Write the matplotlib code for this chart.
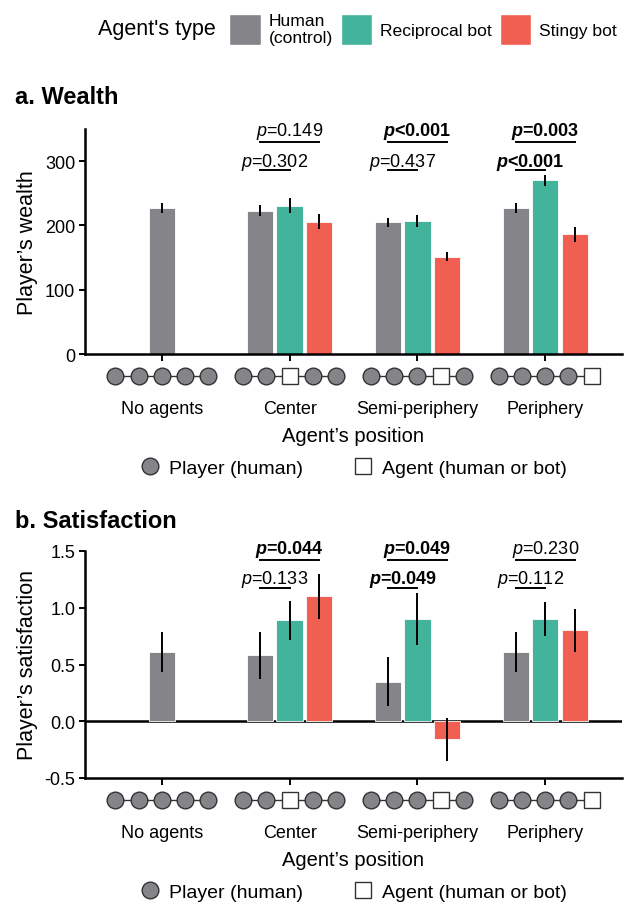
import numpy as np
import matplotlib.pyplot as plt
from matplotlib.patches import Patch
from matplotlib.lines import Line2D
from matplotlib.transforms import blended_transform_factory

plt.rcParams['font.family'] = ['Liberation Sans', 'DejaVu Sans']
plt.rcParams['mathtext.fontset'] = 'custom'
plt.rcParams['mathtext.rm'] = 'Liberation Sans'
plt.rcParams['mathtext.it'] = 'Liberation Sans:italic'
plt.rcParams['mathtext.bf'] = 'Liberation Sans:bold'
plt.rcParams['mathtext.bfit'] = 'Liberation Sans:bold:italic'

# data
categories = ["No agents", "Center", "Semi-periphery", "Periphery"]
agent_types = ["Human\n(control)", "Reciprocal bot", "Stingy bot"]
agent_slot = [None, 2, 3, 4]  # which node in the chain is the agent

wealth_human = [227, 223, 205, 227]
wealth_human_err = [8, 9, 7, 8]
wealth_recip = [np.nan, 231, 207, 270]
wealth_recip_err = [np.nan, 12, 10, 8.5]
wealth_stingy = [np.nan, 206, 151, 186]
wealth_stingy_err = [np.nan, 12, 7, 12]

sat_human = [0.61, 0.58, 0.35, 0.61]
sat_human_err = [0.175, 0.21, 0.22, 0.175]
sat_recip = [np.nan, 0.89, 0.90, 0.90]
sat_recip_err = [np.nan, 0.17, 0.23, 0.15]
sat_stingy = [np.nan, 1.10, -0.16, 0.80]
sat_stingy_err = [np.nan, 0.20, 0.19, 0.19]

# p-values for Center, Semi-periphery, Periphery
# lower bracket: human vs reciprocal, upper bracket: human vs stingy
wealth_p_lower = ["=0.302", "=0.437", "<0.001"]
wealth_p_lower_style = ["italic", "normal", "bold"]
wealth_p_upper = ["=0.149", "<0.001", "=0.003"]
wealth_p_upper_style = ["normal", "bold", "bold"]
sat_p_lower = ["=0.133", "=0.049", "=0.112"]
sat_p_lower_style = ["normal", "bold", "normal"]
sat_p_upper = ["=0.044", "=0.049", "=0.230"]
sat_p_upper_style = ["bold", "bold", "normal"]

colors = ["#858489", "#44B39B", "#F05F51"]
W, H = 634, 904

fig = plt.figure(figsize=(W / 100, H / 100), dpi=100)


def p_label(txt, style):
    if style == "bold":
        return r"$\mathbfit{p}$" + txt, "bold"
    if style == "italic":
        return r"$\mathit{p}$" + txt[0] + r"$\mathit{" + txt[1:] + "}$", "normal"
    return r"$\mathit{p}$" + txt, "normal"


def panel(rect, hum, hum_e, rec, rec_e, sti, sti_e, ylim, yticks, fmt,
          p_low, p_low_s, p_up, p_up_s, br_y, tx_y, ylabel):
    ax = fig.add_axes(rect)
    x = np.arange(1, len(categories) + 1)
    step, bw = 0.23, 0.205
    ekw = dict(ecolor="black", elinewidth=1.4, capsize=0)
    # human bar sits in the middle when it is alone
    hx = np.where(np.isnan(rec), x, x - step)
    ax.bar(hx, hum, bw, yerr=hum_e, color=colors[0], edgecolor="white", lw=0.6, error_kw=ekw, zorder=2)
    ax.bar(x, rec, bw, yerr=rec_e, color=colors[1], edgecolor="white", lw=0.6, error_kw=ekw, zorder=2)
    ax.bar(x + step, sti, bw, yerr=sti_e, color=colors[2], edgecolor="white", lw=0.6, error_kw=ekw, zorder=2)

    ax.set_xlim(0.4, 4.6)
    ax.set_ylim(*ylim)
    ax.set_yticks(yticks)
    ax.set_yticklabels([fmt.format(v) for v in yticks])
    ax.set_xticks(x)
    ax.set_xticklabels(categories)
    ax.tick_params(axis="x", length=5, width=1.4, pad=28, labelsize=13)
    ax.tick_params(axis="y", length=4, width=1.4, pad=3, labelsize=13)
    for s in ["top", "right"]:
        ax.spines[s].set_visible(False)
    for s in ["left", "bottom"]:
        ax.spines[s].set_linewidth(1.8)

    ax.set_ylabel(ylabel, fontsize=15.5)
    ax.yaxis.set_label_coords(-0.088, 0.5)
    ax.set_xlabel("Agent\u2019s position", fontsize=14.5)
    ax.xaxis.set_label_coords(0.5, -0.36)
    ax.xaxis.label.set_va("center")

    # significance brackets
    for i in range(3):
        c = x[i + 1]
        ax.plot([c - step, c], [br_y[0]] * 2, color="black", lw=1.4, clip_on=False)
        ax.plot([c - step, c + step], [br_y[1]] * 2, color="black", lw=1.4, clip_on=False)
        s, w = p_label(p_low[i], p_low_s[i])
        ax.text(c - step / 2, tx_y[0], s, ha="center", va="baseline", fontsize=13,
                fontweight=w, clip_on=False)
        s, w = p_label(p_up[i], p_up_s[i])
        ax.text(c, tx_y[1], s, ha="center", va="baseline", fontsize=13,
                fontweight=w, clip_on=False)

    # network diagrams below each category
    tr = blended_transform_factory(ax.transData, ax.transAxes)
    ny = -22 / (rect[3] * H)
    gap = 0.181
    for i, c in enumerate(x):
        nx = c + gap * np.arange(-2, 3)
        ax.plot(nx, [ny] * 5, color="#333333", lw=1.0, transform=tr, clip_on=False, zorder=3)
        for j, px in enumerate(nx):
            if agent_slot[i] == j:
                ax.plot(px, ny, marker="s", ms=11.5, mfc="white", mec="#333333", mew=1.0,
                        transform=tr, clip_on=False, zorder=4)
            else:
                ax.plot(px, ny, marker="o", ms=12, mfc="#858489", mec="#333333", mew=1.0,
                        transform=tr, clip_on=False, zorder=4)

    handles = [Line2D([], [], ls="none", marker="o", ms=12, mfc="#858489", mec="#333333", mew=1.0),
               Line2D([], [], ls="none", marker="s", ms=12, mfc="white", mec="#333333", mew=1.0)]
    ax.legend(handles, ["Player (human)", "Agent (human or bot)"], ncol=2, frameon=False,
              loc="center", bbox_to_anchor=(0.5, -114 / (rect[3] * H)),
              fontsize=14, handletextpad=0.45, columnspacing=2.6, handlelength=1.0)
    return ax


ax1 = panel([85 / W, 1 - 355 / H, 537 / W, 225 / H],
            wealth_human, wealth_human_err, wealth_recip, wealth_recip_err,
            wealth_stingy, wealth_stingy_err, (0, 350), [0, 100, 200, 300], "{:.0f}",
            wealth_p_lower, wealth_p_lower_style, wealth_p_upper, wealth_p_upper_style,
            (287, 330), (293, 341), "Player\u2019s wealth")

ax2 = panel([85 / W, 1 - 779 / H, 537 / W, 227 / H],
            sat_human, sat_human_err, sat_recip, sat_recip_err,
            sat_stingy, sat_stingy_err, (-0.5, 1.5), [-0.5, 0.0, 0.5, 1.0, 1.5], "{:.1f}",
            sat_p_lower, sat_p_lower_style, sat_p_upper, sat_p_upper_style,
            (1.177, 1.425), (1.215, 1.48), "Player\u2019s satisfaction")
ax2.axhline(0, color="black", lw=1.8, zorder=1)

fig.text(15 / W, 1 - 97 / H, "a. Wealth", fontsize=17, fontweight="bold", va="center")
fig.text(15 / W, 1 - 521 / H, "b. Satisfaction", fontsize=17, fontweight="bold", va="center")

# top legend
fig.text(98 / W, 1 - 30 / H, "Agent's type", fontsize=15.5, va="center")
patches = [Patch(facecolor=c, edgecolor="white") for c in colors]
fig.legend(patches, agent_types, ncol=3, frameon=False, loc="center left",
           bbox_to_anchor=(222 / W, 1 - 30 / H), fontsize=12.6,
           handlelength=1.8, handleheight=2.4, handletextpad=0.45, columnspacing=0.45,
           borderaxespad=0, labelspacing=0)

fig.savefig("out.png", dpi=100)
